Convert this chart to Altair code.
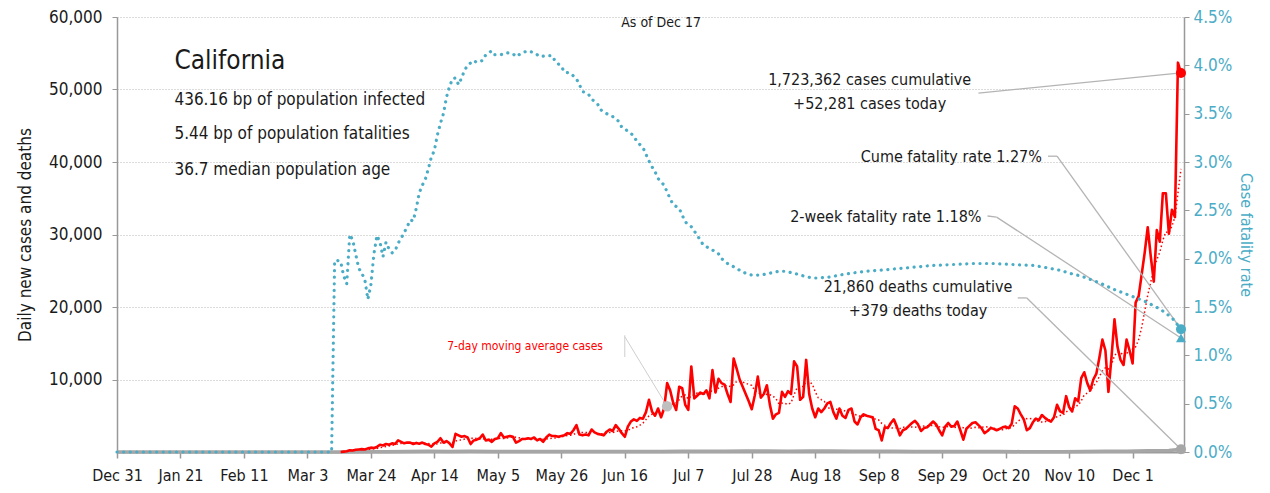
import altair as alt
import pandas as pd

FONT = "DejaVu Sans Condensed, Liberation Sans Narrow, Roboto, sans-serif"
RED = "#FF0000"
TEAL = "#4BACC6"
GRAY = "#A6A6A6"
TXT = "#1a1a1a"

START = pd.Timestamp("2019-12-31")

# daily new cases, one value per day from Dec 31 2019 to Dec 17 2020
case_values = [
    0, 0, 0, 0, 0, 0, 0, 0, 0, 0, 0, 0, 0, 0, 0, 0, 0, 0, 0, 0, 0, 0, 0, 0, 0,
    0, 0, 0, 0, 0, 0, 0, 0, 0, 0, 0, 0, 0, 0, 0, 0, 0, 0, 0, 0, 0, 0, 0, 0, 0,
    0, 0, 0, 0, 0, 0, 0, 0, 0, 0, 0, 0, 0, 0, 0, 0, 0, 0, 0, 0, 0, 0, 0, 0, 0,
    50, 100, 250, 200, 300, 350, 400, 350, 500, 600,
    550, 700, 1000, 900, 1100, 1000, 1200, 1100, 1600, 1400,
    1200, 1300, 1300, 1100, 1250, 1150, 1300, 1100, 1000, 750,
    1200, 1400, 1900, 1300, 1500, 1200, 700, 2500, 2300, 2100,
    2200, 2000, 1100, 1600, 1700, 1900, 2400, 1600, 1700, 1400,
    1800, 1900, 2600, 2000, 2100, 2200, 2100, 1300, 1500, 1800,
    1800, 1900, 1800, 2000, 1600, 1800, 1400, 2000, 2400, 2200,
    2200, 2100, 2200, 2300, 2600, 2500, 3000, 3700, 2400, 2300,
    2400, 2300, 3100, 2700, 2500, 2400, 2300, 2800, 3100, 2900,
    3700, 3200, 2600, 2100, 3500, 4200, 4500, 4300, 4700, 4600,
    5500, 7200, 5600, 5000, 6000, 4800, 6000, 9500, 8500, 6800,
    5800, 9000, 8800, 6500, 5800, 11800, 7400, 7800, 8200, 8000,
    8500, 7400, 11300, 8200, 10100, 9500, 9300, 8000, 6900, 12900,
    11500, 10000, 9000, 8000, 7000, 5900, 7800, 10400, 7500, 8000,
    9200, 6500, 4600, 5200, 5400, 8300, 7600, 8400, 8000, 12500,
    11800, 7200, 7600, 12700, 8000, 6000, 4800, 6000, 5500, 6000,
    6700, 6900, 5500, 4600, 6000, 5000, 4700, 5800, 6000, 4200,
    3800, 4800, 5200, 5000, 4900, 4800, 3200, 3000, 1600, 3400,
    3300, 4000, 4500, 3500, 2300, 3000, 3200, 3600, 4000, 4300,
    3800, 2900, 3300, 3400, 3800, 4200, 3800, 3000, 2300, 3500,
    4000, 3500, 3600, 4200, 3000, 1700, 3200, 3600, 4000, 4100,
    3700, 3300, 2600, 2900, 3300, 3200, 3000, 3200, 3400, 3500,
    3300, 3900, 6300, 6000, 5200, 4500, 3000, 3300, 4100, 4600,
    4400, 5100, 4700, 4400, 4200, 4800, 6500, 5600, 5400, 7700,
    6200, 5600, 7400, 7000, 10200, 11000, 9500, 8500, 10000, 10800,
    13000, 15500, 14000, 8300, 13000, 18300, 14500, 12700, 12000, 15500,
    14000, 12200, 20600, 21500, 24500, 27500, 31000, 27000, 23500, 30600,
    29000, 35700, 35700, 30100, 33400, 32400, 53700, 52281,
]

# daily deaths (day offset from Dec 31 2019)
death_days = [0, 74, 82, 89, 96, 103, 110, 117, 124, 131, 138, 145, 152, 159, 166,
              173, 180, 187, 194, 201, 208, 215, 222, 229, 236, 243, 250, 257, 264,
              271, 278, 285, 292, 299, 306, 313, 320, 327, 334, 341, 348, 352]
death_values = [0, 0, 20, 50, 70, 90, 80, 90, 80, 70, 70, 60, 70, 60, 60,
                70, 60, 100, 100, 120, 140, 130, 120, 140, 130, 110, 100, 90, 80,
                70, 70, 60, 60, 50, 50, 50, 70, 90, 110, 160, 220, 379]

# cumulative case fatality rate, %
cfr_days = [0, 71, 72, 73, 74, 75, 76, 77, 78, 79, 80, 81, 82, 83, 84, 85, 86, 87, 88,
            89, 90, 91, 92, 93, 94, 95, 96, 97, 98, 99, 100, 101, 102, 103, 104, 105,
            106, 107, 108, 109, 110, 111, 112, 113, 114, 115, 116, 118, 119, 121, 122,
            124, 125, 127, 129, 131, 132, 134, 136, 138, 140, 142, 144, 145, 147, 148,
            150, 152, 153, 154, 156, 157, 159, 160, 162, 164, 166, 167, 169, 171, 172,
            174, 175, 176, 177, 178, 179, 181, 182, 183, 184, 186, 187, 188, 190, 192,
            194, 197, 199, 200, 202, 205, 207, 210, 213, 216, 219, 221, 224, 226, 230,
            232, 236, 239, 243, 248, 252, 256, 263, 270, 277, 283, 290, 296, 303, 307,
            312, 315, 319, 325, 330, 335, 340, 345, 349, 352]
cfr_values = [0, 0, 1.98, 1.98, 1.97, 1.82, 1.74, 2.25, 2.19, 2.04, 1.90, 1.85, 1.78,
              1.58, 1.73, 2.05, 2.24, 2.17, 2.02, 2.17, 2.10, 2.06, 2.08, 2.16, 2.21,
              2.27, 2.33, 2.40, 2.39, 2.52, 2.68, 2.76, 2.82, 2.93, 3.05, 3.12, 3.28,
              3.40, 3.50, 3.67, 3.78, 3.86, 3.87, 3.80, 3.87, 3.95, 4.00, 4.05, 4.03,
              4.05, 4.11, 4.15, 4.11, 4.11, 4.13, 4.12, 4.09, 4.13, 4.15, 4.13, 4.09,
              4.10, 4.10, 4.04, 3.99, 3.93, 3.92, 3.86, 3.80, 3.73, 3.70, 3.65, 3.60,
              3.54, 3.50, 3.47, 3.42, 3.36, 3.32, 3.27, 3.21, 3.15, 3.08, 3.01, 2.95,
              2.90, 2.83, 2.76, 2.69, 2.62, 2.56, 2.52, 2.45, 2.38, 2.33, 2.24, 2.14,
              2.09, 2.05, 2.00, 1.95, 1.90, 1.86, 1.83, 1.83, 1.85, 1.87, 1.87, 1.85,
              1.83, 1.80, 1.80, 1.81, 1.83, 1.85, 1.87, 1.88, 1.89, 1.91, 1.93, 1.94,
              1.95, 1.95, 1.94, 1.93, 1.91, 1.88, 1.85, 1.82, 1.75, 1.68, 1.62, 1.56,
              1.48, 1.39, 1.27]

two_week_cfr = 1.18
cum_cases = "1,723,362"
cum_deaths = "21,860"

tick_dates = ["2019-12-31", "2020-01-21", "2020-02-11", "2020-03-03", "2020-03-24",
              "2020-04-14", "2020-05-05", "2020-05-26", "2020-06-16", "2020-07-07",
              "2020-07-28", "2020-08-18", "2020-09-08", "2020-09-29", "2020-10-20",
              "2020-11-10", "2020-12-01"]
left_ticks = [10000, 20000, 30000, 40000, 50000, 60000]
right_ticks = [0, 0.5, 1, 1.5, 2, 2.5, 3, 3.5, 4, 4.5]

stats_lines = ["436.16 bp of population infected",
               "5.44 bp of population fatalities",
               "36.7 median population age"]


def day(d):
    return (START + pd.Timedelta(days=d)).strftime("%Y-%m-%d")


def dt(s):
    y, m, d = (int(v) for v in s.split("-"))
    return alt.DateTime(year=y, month=m, date=d, utc=True)


cases_df = pd.DataFrame({"date": [day(i) for i in range(len(case_values))],
                         "cases": case_values})
cases_df["ma7"] = cases_df["cases"].rolling(7, min_periods=1).mean()
cases_line_df = cases_df[cases_df["date"] >= "2020-03-14"]
deaths_df = pd.DataFrame({"date": [day(d) for d in death_days], "cases": death_values})
cfr_df = pd.DataFrame({"date": [day(d) for d in cfr_days], "cfr": cfr_values})

last = day(len(case_values) - 1)
YMAX = 60000.0
RMAX = 4.5


def to_left(p):
    return p / RMAX * YMAX


X_SCALE = alt.Scale(type="utc", domain=[dt("2019-12-31"), dt("2020-12-18")])
X_AXIS = alt.Axis(values=[dt(s) for s in tick_dates], format="%b %-d", title=None,
                  labelFont=FONT, labelFontSize=16, labelColor=TXT, labelPadding=9,
                  labelOverlap=False, labelFlush=False,
                  tickColor="#999999", tickSize=6, tickWidth=1.5, domainColor="#999999",
                  domainWidth=2, grid=False)
Y_SCALE = alt.Scale(domain=[0, YMAX], nice=False)
R_SCALE = alt.Scale(domain=[0, RMAX], nice=False)

LEFT_AXIS = alt.Axis(values=left_ticks, format=",d",
                     title="Daily new cases and deaths", titleFont=FONT, titleFontSize=17,
                     titleFontWeight="normal", titleColor=TXT, titlePadding=14,
                     labelFont=FONT, labelFontSize=17, labelColor=TXT, labelPadding=10,
                     labelOverlap=False,
                     tickColor="#999999", tickSize=5, domainColor="#999999", domainWidth=1.5,
                     grid=True, gridColor="#B8B8B8", gridDash=[1, 2], gridWidth=1)
RIGHT_AXIS = alt.Axis(orient="right", values=right_ticks,
                      labelExpr="format(datum.value, '.1f') + '%'",
                      title="Case fatality rate", titleFont=FONT, titleFontSize=16,
                      titleFontWeight="normal", titleColor=TEAL, titlePadding=6,
                      labelFont=FONT, labelFontSize=17, labelColor=TEAL, labelPadding=4,
                      labelOverlap=False,
                      tickColor="#999999", tickSize=5, domainColor="#999999", domainWidth=1.5,
                      grid=False)


def X(field="date"):
    return alt.X(f"{field}:T", scale=X_SCALE, axis=X_AXIS)


def Y(field="cases"):
    return alt.Y(f"{field}:Q", scale=Y_SCALE, axis=LEFT_AXIS)


def R(field="cfr"):
    return alt.Y(f"{field}:Q", scale=R_SCALE, axis=RIGHT_AXIS)


ma_line = alt.Chart(cases_df).mark_line(color=RED, strokeWidth=1.5, strokeDash=[1.5, 2.5]).encode(
    x=X(), y=Y("ma7"))
deaths_line = alt.Chart(deaths_df).mark_line(color=GRAY, strokeWidth=3.5).encode(x=X(), y=Y())
cases_line = alt.Chart(cases_line_df).mark_line(color=RED, strokeWidth=2.6, strokeJoin="round").encode(
    x=X(), y=Y())

last_case = alt.Chart(cases_df[cases_df["date"] == last]).mark_point(
    filled=True, color=RED, size=100, opacity=1).encode(x=X(), y=Y())
last_death = alt.Chart(deaths_df[deaths_df["date"] == last]).mark_point(
    filled=True, color=GRAY, size=100, opacity=1).encode(x=X(), y=Y())
ma_point = alt.Chart(cases_df[cases_df["date"] == "2020-06-30"]).mark_point(
    filled=True, color="#BFBFBF", size=110, opacity=1).encode(x=X(), y=Y("ma7"))

# leader lines (data coordinates)
ma_at = float(cases_df.loc[cases_df["date"] == "2020-06-30", "ma7"].iloc[0])
leaders = pd.DataFrame([
    {"x": day(285), "y": 49500, "x2": last, "y2": case_values[-1]},
    {"x": day(308), "y": 40800, "x2": day(311), "y2": 40800},
    {"x": day(311), "y": 40800, "x2": last, "y2": to_left(cfr_values[-1])},
    {"x": day(288), "y": 32550, "x2": day(291), "y2": 32400},
    {"x": day(291), "y": 32400, "x2": last, "y2": to_left(two_week_cfr)},
    {"x": day(298), "y": 21250, "x2": day(301), "y2": 21250},
    {"x": day(301), "y": 21250, "x2": last, "y2": death_values[-1]},
])
leader_rules = alt.Chart(leaders).mark_rule(color="#B4B4B4", strokeWidth=1.3).encode(
    x=X("x"), y=Y("y"), x2="x2:T", y2="y2:Q")
ma_leaders = pd.DataFrame([
    {"x": day(168), "y": 16100, "x2": day(168), "y2": 13100},
    {"x": day(168), "y": 15900, "x2": "2020-06-30", "y2": ma_at},
])
ma_rules = alt.Chart(ma_leaders).mark_rule(color="#C8C8C8", strokeWidth=0.9).encode(
    x=X("x"), y=Y("y"), x2="x2:T", y2="y2:Q")

# texts
title_df = pd.DataFrame([{"date": day(19), "cases": 53900, "t": "California"}])
title_text = alt.Chart(title_df).mark_text(align="left", baseline="middle", font=FONT,
                                           fontSize=26, color=TXT).encode(
    x=X(), y=Y(), text="t:N")
stats_df = pd.DataFrame({"date": [day(19)] * 3, "cases": [48500, 43800, 38850], "t": stats_lines})
stats_text = alt.Chart(stats_df).mark_text(align="left", baseline="middle", font=FONT,
                                           fontSize=17, color=TXT).encode(
    x=X(), y=Y(), text="t:N")
asof_df = pd.DataFrame([{"date": day(180), "cases": 59200, "t": "As of Dec 17"}])
asof_text = alt.Chart(asof_df).mark_text(align="center", baseline="middle", font=FONT,
                                         fontSize=14, color=TXT).encode(
    x=X(), y=Y(), text="t:N")
center_df = pd.DataFrame([
    {"date": day(249), "cases": 51300, "t": f"{cum_cases} cases cumulative"},
    {"date": day(249), "cases": 48000, "t": f"+{case_values[-1]:,} cases today"},
    {"date": day(265), "cases": 22750, "t": f"{cum_deaths} deaths cumulative"},
    {"date": day(265), "cases": 19450, "t": f"+{death_values[-1]} deaths today"},
])
center_text = alt.Chart(center_df).mark_text(align="center", baseline="middle", font=FONT,
                                             fontSize=16, color=TXT).encode(
    x=X(), y=Y(), text="t:N")
right_df = pd.DataFrame([
    {"date": day(306), "cases": 40700, "t": f"Cume fatality rate {cfr_values[-1]:.2f}%"},
    {"date": day(286), "cases": 32450, "t": f"2-week fatality rate {two_week_cfr:.2f}%"},
])
right_text = alt.Chart(right_df).mark_text(align="right", baseline="middle", font=FONT,
                                           fontSize=16, color=TXT).encode(
    x=X(), y=Y(), text="t:N")
ma_df = pd.DataFrame([{"date": day(135), "cases": 14600, "t": "7-day moving average cases"}])
ma_text = alt.Chart(ma_df).mark_text(align="center", baseline="middle", font=FONT,
                                     fontSize=12, color=RED).encode(
    x=X(), y=Y(), text="t:N")

left = alt.layer(ma_line, deaths_line, cases_line, ma_rules, ma_point, leader_rules,
                 last_case, last_death, title_text, stats_text, asof_text, center_text,
                 right_text, ma_text)

cfr_line = alt.Chart(cfr_df).mark_line(color=TEAL, strokeWidth=3.2, strokeDash=[0.1, 6.5],
                                       strokeCap="round").encode(x=X(), y=R())
cfr_point = alt.Chart(cfr_df[cfr_df["date"] == last]).mark_point(
    filled=True, color=TEAL, size=100, opacity=1).encode(x=X(), y=R())
tw_df = pd.DataFrame([{"date": last, "cfr": two_week_cfr}])
tw_point = alt.Chart(tw_df).mark_point(filled=True, color=TEAL, size=100, opacity=1,
                                       shape="triangle-up").encode(x=X(), y=R())
right = alt.layer(cfr_line, cfr_point, tw_point)

chart = alt.layer(left, right).resolve_scale(y="independent").properties(
    width=1067, height=435, autosize="none",
    padding={"left": 109, "top": 9, "right": 78, "bottom": 33},
    background="white",
).configure_view(stroke=None)

chart.save("out.html", embed_options={"renderer": "svg", "actions": False})
